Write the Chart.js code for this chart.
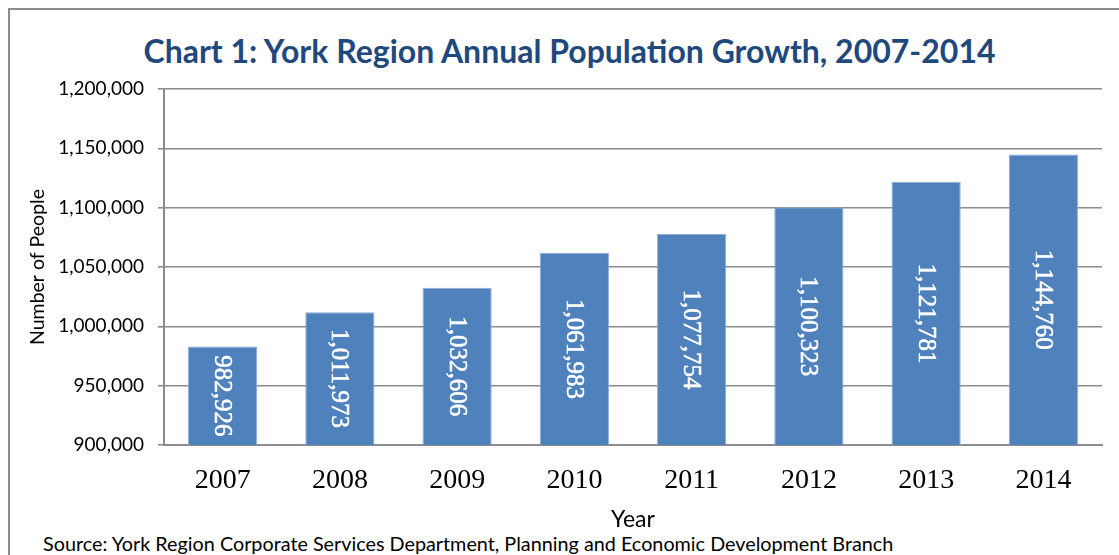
<!DOCTYPE html>
<html>
<head>
<meta charset="utf-8">
<script src="https://cdn.jsdelivr.net/npm/chart.js@4.4.1/dist/chart.umd.min.js"></script>
<style>
  html, body { margin: 0; padding: 0; background: #fff; overflow: hidden; }
  body { width: 1119px; height: 555px; position: relative; }
  #frame {
    position: absolute; left: 8px; top: 8px; width: 1200px; height: 700px;
    border-left: 2px solid #8c8c8c; border-top: 2px solid #8c8c8c;
  }
  #title {
    position: absolute; left: 0; top: 31px; width: 1139px; line-height: 40px;
    text-align: center; font-family: Lato, sans-serif; font-weight: bold;
    font-size: 32px; color: #1f497d; white-space: nowrap;
  }
  #source {
    position: absolute; left: 43px; top: 532px; line-height: 22px;
    font-family: Lato, sans-serif; font-size: 19.8px; color: #000; white-space: nowrap;
  }
  #wrap { position: absolute; left: 0; top: 0; width: 1119px; height: 555px; }
</style>
</head>
<body>
<div id="frame"></div>
<div id="title">Chart 1: York Region Annual Population Growth, 2007-2014</div>
<div id="source">Source: York Region Corporate Services Department, Planning and Economic Development Branch</div>
<div id="wrap"><canvas id="popChart"></canvas></div>
<script>
const years = ["2007", "2008", "2009", "2010", "2011", "2012", "2013", "2014"];
const population = [982926, 1011973, 1032606, 1061983, 1077754, 1100323, 1121781, 1144760];
const yTicks = [900000, 950000, 1000000, 1050000, 1100000, 1150000, 1200000];

const fmt = (v) => Number(v).toLocaleString("en-US");

// values written inside the bars, turned a quarter turn
const barLabels = {
  id: "barLabels",
  afterDatasetsDraw(chart) {
    const ctx = chart.ctx;
    const meta = chart.getDatasetMeta(0);
    const bottom = chart.chartArea.bottom;
    ctx.save();
    ctx.fillStyle = "#ffffff";
    ctx.strokeStyle = "#ffffff";
    ctx.lineWidth = 0.5;
    ctx.font = "25px 'Liberation Serif', serif";
    ctx.textAlign = "center";
    ctx.textBaseline = "middle";
    meta.data.forEach((bar, i) => {
      // base sits at value 0, far below the axis, so cut it at the axis
      const mid = (bar.y + Math.min(bar.base, bottom)) / 2;
      ctx.save();
      ctx.translate(bar.x, mid);
      ctx.rotate(Math.PI / 2);
      ctx.fillText(fmt(population[i]), 0, 1);
      ctx.strokeText(fmt(population[i]), 0, 1);
      ctx.restore();
    });
    ctx.restore();
  },
};

new Chart(document.getElementById("popChart"), {
  type: "bar",
  data: {
    labels: years,
    datasets: [
      {
        data: population,
        backgroundColor: "#4f81bd",
        borderColor: "#8eaad6",
        borderWidth: 1,
        barPercentage: 0.59,
        categoryPercentage: 1,
      },
    ],
  },
  options: {
    responsive: true,
    maintainAspectRatio: false,
    animation: false,
    layout: { padding: { top: 89, right: 17, bottom: 0, left: 0 } },
    plugins: {
      legend: { display: false },
      tooltip: { enabled: false },
    },
    scales: {
      x: {
        grid: { display: false },
        border: { display: true, color: "#8c8c8c", width: 2 },
        ticks: {
          color: "#000",
          font: { family: "'Liberation Serif', serif", size: 28 },
          padding: 11,
          maxRotation: 0,
          minRotation: 0,
        },
        title: {
          display: true,
          text: "Year",
          color: "#000",
          font: { family: "Lato, sans-serif", size: 23 },
          padding: { top: 0, bottom: 22 },
        },
        afterFit(scale) {
          scale.height = 110;
        },
      },
      y: {
        min: 900000,
        max: 1200000,
        afterBuildTicks(scale) {
          scale.ticks = yTicks.map((v) => ({ value: v }));
        },
        grid: {
          color: "#8c8c8c",
          lineWidth: 1.6,
          tickLength: 6,
          drawTicks: true,
        },
        border: { display: true, color: "#8c8c8c", width: 2 },
        ticks: {
          color: "#000",
          font: { family: "Lato, sans-serif", size: 19 },
          padding: 14,
          callback: (v) => fmt(v),
        },
        title: {
          display: true,
          text: "Number of People",
          color: "#000",
          font: { family: "Lato, sans-serif", size: 19.5 },
          padding: { top: 26, bottom: 0 },
        },
        afterFit(scale) {
          scale.width = 164;
        },
      },
    },
  },
  plugins: [barLabels],
});
</script>
</body>
</html>
